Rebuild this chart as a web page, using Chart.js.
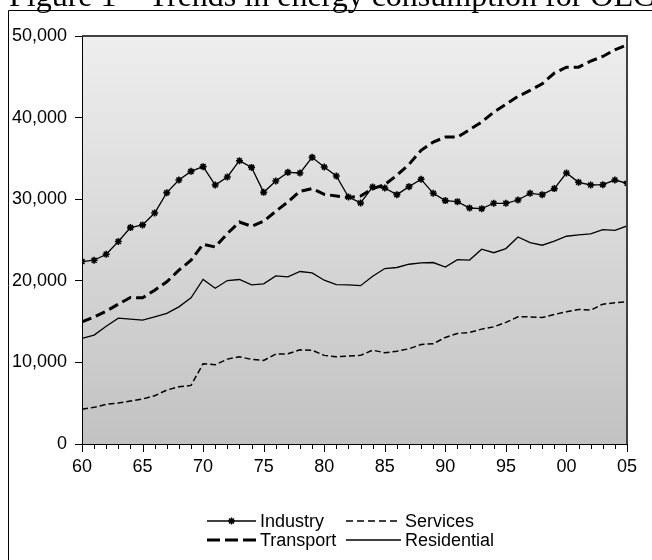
<!DOCTYPE html>
<html>
<head>
<meta charset="utf-8">
<title>Trends in energy consumption</title>
<script src="https://cdn.jsdelivr.net/npm/chart.js@4.4.0/dist/chart.umd.min.js"></script>
<style>
  html, body { margin: 0; padding: 0; background: #fff; overflow: hidden; }
  #wrap { position: relative; width: 652px; height: 560px; }
  canvas { position: absolute; left: 0; top: 0; }
</style>
</head>
<body>
<div id="wrap"><canvas id="energyChart" width="652" height="560"></canvas></div>
<script>
"use strict";

// ---------- Data ----------
const TITLE = "Figure 1 \u2013 Trends in energy consumption for OECD";

const years = [
  1960, 1961, 1962, 1963, 1964, 1965, 1966, 1967, 1968, 1969,
  1970, 1971, 1972, 1973, 1974, 1975, 1976, 1977, 1978, 1979,
  1980, 1981, 1982, 1983, 1984, 1985, 1986, 1987, 1988, 1989,
  1990, 1991, 1992, 1993, 1994, 1995, 1996, 1997, 1998, 1999,
  2000, 2001, 2002, 2003, 2004, 2005
];

const industry = [
  22360, 22520, 23250, 24810, 26520, 26850, 28310, 30800, 32350, 33410,
  33990, 31740, 32720, 34720, 33900, 30840, 32230, 33290, 33210, 35130,
  33940, 32840, 30270, 29540, 31500, 31370, 30560, 31540, 32440, 30720,
  29830, 29700, 28920, 28840, 29500, 29500, 29900, 30720, 30560, 31300,
  33210, 32070, 31740, 31780, 32350, 31950
];

const transport = [
  14970, 15580, 16280, 17140, 17960, 17910, 18850, 19870, 21300, 22520,
  24480, 24150, 25790, 27210, 26680, 27300, 28520, 29660, 30970, 31300,
  30600, 30390, 30200, 30390, 31300, 31780, 32930, 34270, 35990, 37000,
  37610, 37610, 38520, 39450, 40680, 41620, 42600, 43330, 44150, 45450,
  46180, 46180, 46920, 47490, 48310, 48920
];

const residential = [
  12930, 13340, 14440, 15420, 15300, 15180, 15580, 16000, 16810, 17910,
  20160, 19090, 20030, 20160, 19500, 19620, 20600, 20480, 21140, 20970,
  20070, 19540, 19500, 19400, 20550, 21500, 21630, 22030, 22190, 22240,
  21680, 22600, 22540, 23870, 23440, 23950, 25370, 24670, 24360, 24850,
  25460, 25620, 25740, 26280, 26190, 26720
];

const services = [
  4250, 4490, 4860, 5020, 5260, 5510, 5910, 6610, 7010, 7180,
  9830, 9710, 10400, 10690, 10370, 10240, 11020, 11050, 11540, 11500,
  10860, 10690, 10770, 10860, 11500, 11180, 11380, 11670, 12200, 12280,
  13060, 13550, 13670, 14080, 14360, 14900, 15580, 15580, 15500, 15870,
  16200, 16490, 16400, 17140, 17300, 17420
];

const xTickYears = [1960, 1965, 1970, 1975, 1980, 1985, 1990, 1995, 2000, 2005];
const xTickLabels = ["60", "65", "70", "75", "80", "85", "90", "95", "00", "05"];
const yTickValues = [0, 10000, 20000, 30000, 40000, 50000];
const yTickLabels = ["0", "10,000", "20,000", "30,000", "40,000", "50,000"];

// ---------- Helpers ----------
function toPoints(values) {
  return years.map((yr, i) => ({ x: yr, y: values[i] }));
}

const AXIS_FONT = { family: "'Liberation Sans', Arial, sans-serif", size: 18 };

// ---------- Plugins ----------
const plotBackground = {
  id: "plotBackground",
  beforeDraw(chart) {
    const { ctx, chartArea: a } = chart;
    const g = ctx.createLinearGradient(0, a.top, 0, a.bottom);
    g.addColorStop(0, "#eeeeee");
    g.addColorStop(1, "#c2c2c2");
    ctx.save();
    ctx.fillStyle = g;
    ctx.fillRect(a.left, a.top, a.right - a.left, a.bottom - a.top);
    ctx.restore();
  }
};

function drawStar(ctx, x, y, r) {
  ctx.beginPath();
  for (let k = 0; k < 4; k++) {
    const ang = k * Math.PI / 4;
    ctx.moveTo(x - r * Math.cos(ang), y - r * Math.sin(ang));
    ctx.lineTo(x + r * Math.cos(ang), y + r * Math.sin(ang));
  }
  ctx.stroke();
}

const decorations = {
  id: "decorations",
  afterDraw(chart) {
    const { ctx, chartArea: a } = chart;
    const xs = chart.scales.x;
    ctx.save();

    // plot frame (top / right darker grey)
    ctx.strokeStyle = "#404040";
    ctx.lineWidth = 2;
    ctx.beginPath();
    ctx.moveTo(a.left, a.top);
    ctx.lineTo(a.right, a.top);
    ctx.lineTo(a.right, a.bottom);
    ctx.stroke();

    // x ticks, longer every 5 years
    ctx.strokeStyle = "#000";
    ctx.lineWidth = 1;
    ctx.beginPath();
    for (const yr of years) {
      const px = Math.round(xs.getPixelForValue(yr)) + 0.5;
      const len = yr % 5 === 0 ? 8 : 5;
      ctx.moveTo(px, a.bottom);
      ctx.lineTo(px, a.bottom + len);
    }
    ctx.stroke();

    // outer frame
    ctx.beginPath();
    ctx.moveTo(8.5, 560);
    ctx.lineTo(8.5, 10.5);
    ctx.lineTo(652, 10.5);
    ctx.stroke();

    // title (runs off the page like the source)
    ctx.fillStyle = "#000";
    ctx.font = "32px 'Liberation Serif', 'Times New Roman', serif";
    ctx.textBaseline = "alphabetic";
    ctx.textAlign = "left";
    ctx.fillText(TITLE, 9, 6);

    // legend, two columns
    const slots = [
      { ds: 0, x: 207, y: 521, tx: 260 },
      { ds: 1, x: 346, y: 521, tx: 405 },
      { ds: 2, x: 207, y: 540, tx: 260 },
      { ds: 3, x: 346, y: 540, tx: 405 }
    ];
    ctx.font = "18px 'Liberation Sans', Arial, sans-serif";
    ctx.textBaseline = "middle";
    for (const s of slots) {
      const d = chart.data.datasets[s.ds];
      ctx.strokeStyle = "#000";
      ctx.lineWidth = d.borderWidth;
      ctx.setLineDash(d.legendDash || []);
      ctx.beginPath();
      ctx.moveTo(s.x, s.y);
      ctx.lineTo(s.tx - 4, s.y);
      ctx.stroke();
      ctx.setLineDash([]);
      if (d.pointRadius > 0) {
        ctx.lineWidth = d.pointBorderWidth;
        drawStar(ctx, (s.x + s.tx - 4) / 2, s.y, d.pointRadius);
      }
      ctx.fillText(d.label, s.tx, s.y + 1);
    }
    ctx.restore();
  }
};

// ---------- Chart ----------
const chart = new Chart(document.getElementById("energyChart"), {
  type: "line",
  data: {
    datasets: [
      {
        label: "Industry",
        data: toPoints(industry),
        borderColor: "#000",
        borderWidth: 1.3,
        pointStyle: "star",
        pointRadius: 3.5,
        pointBorderWidth: 1.6,
        pointBorderColor: "#000",
        pointBackgroundColor: "#000"
      },
      {
        label: "Services",
        data: toPoints(services),
        borderColor: "#000",
        borderWidth: 1.5,
        borderDash: [6, 3],
        legendDash: [7, 4],
        pointRadius: 0
      },
      {
        label: "Transport",
        data: toPoints(transport),
        borderColor: "#000",
        borderWidth: 3,
        borderDash: [10, 5],
        legendDash: [13, 5],
        pointRadius: 0
      },
      {
        label: "Residential",
        data: toPoints(residential),
        borderColor: "#000",
        borderWidth: 1.3,
        pointRadius: 0
      }
    ]
  },
  options: {
    responsive: false,
    animation: false,
    devicePixelRatio: 1,
    layout: { padding: { left: 0, top: 36, right: 25, bottom: 76 } },
    plugins: {
      legend: { display: false },
      tooltip: { enabled: false }
    },
    elements: { line: { tension: 0 } },
    scales: {
      x: {
        type: "linear",
        min: 1960,
        max: 2005,
        afterBuildTicks(scale) {
          scale.ticks = xTickYears.map(v => ({ value: v }));
        },
        ticks: {
          color: "#000",
          font: AXIS_FONT,
          padding: 4,
          maxRotation: 0,
          autoSkip: false,
          callback: v => xTickLabels[xTickYears.indexOf(v)]
        },
        grid: {
          drawOnChartArea: false,
          drawTicks: true,
          tickLength: 8,
          tickColor: "rgba(0,0,0,0)"
        },
        border: { display: true, color: "#000", width: 1 },
        afterFit(scale) { scale.height = 40; }
      },
      y: {
        min: 0,
        max: 50000,
        afterBuildTicks(scale) {
          scale.ticks = yTickValues.map(v => ({ value: v }));
        },
        ticks: {
          color: "#000",
          font: AXIS_FONT,
          padding: 8,
          callback: v => yTickLabels[yTickValues.indexOf(v)]
        },
        grid: {
          drawOnChartArea: false,
          drawTicks: true,
          tickLength: 7,
          tickColor: "#000"
        },
        border: { display: true, color: "#000", width: 1 },
        afterFit(scale) { scale.width = 82; }
      }
    }
  },
  plugins: [plotBackground, decorations]
});
</script>
</body>
</html>
